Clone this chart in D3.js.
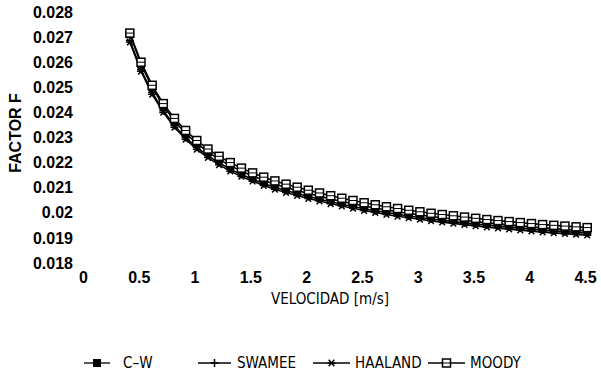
<!DOCTYPE html>
<html>
<head>
<meta charset="utf-8">
<script src="https://cdn.jsdelivr.net/npm/d3@7"></script>
<style>
  body { margin: 0; background: #fff; }
  svg { display: block; }
</style>
</head>
<body>
<script>
// velocidad (m/s)
const velocidad = [0.42, 0.52, 0.62, 0.72, 0.82, 0.92, 1.02, 1.12, 1.22, 1.32,
  1.42, 1.52, 1.62, 1.72, 1.82, 1.92, 2.02, 2.12, 2.22, 2.32,
  2.42, 2.52, 2.62, 2.72, 2.82, 2.92, 3.02, 3.12, 3.22, 3.32,
  3.42, 3.52, 3.62, 3.72, 3.82, 3.92, 4.02, 4.12, 4.22, 4.32,
  4.42, 4.52];

const cw = [0.02711, 0.02593, 0.02500, 0.02426, 0.02366, 0.02317, 0.02277, 0.02243, 0.02213, 0.02188,
  0.02166, 0.02147, 0.02129, 0.02114, 0.02101, 0.02089, 0.02077, 0.02066, 0.02055, 0.02045,
  0.02036, 0.02027, 0.02019, 0.02011, 0.02004, 0.01997, 0.01991, 0.01985, 0.01980, 0.01975,
  0.01970, 0.01965, 0.01960, 0.01956, 0.01952, 0.01948, 0.01944, 0.01940, 0.01937, 0.01934,
  0.01931, 0.01928];

const swamee = [0.02686, 0.02571, 0.02479, 0.02407, 0.02348, 0.02300, 0.02261, 0.02228, 0.02199, 0.02174,
  0.02153, 0.02134, 0.02117, 0.02102, 0.02089, 0.02077, 0.02065, 0.02054, 0.02044, 0.02034,
  0.02025, 0.02016, 0.02008, 0.02001, 0.01994, 0.01987, 0.01981, 0.01975, 0.01970, 0.01965,
  0.01960, 0.01955, 0.01951, 0.01947, 0.01943, 0.01939, 0.01935, 0.01931, 0.01928, 0.01925,
  0.01922, 0.01919];

const haaland = [0.02680, 0.02564, 0.02472, 0.02400, 0.02341, 0.02293, 0.02253, 0.02220, 0.02191, 0.02166,
  0.02145, 0.02126, 0.02109, 0.02094, 0.02081, 0.02069, 0.02057, 0.02047, 0.02036, 0.02027,
  0.02018, 0.02009, 0.02001, 0.01993, 0.01986, 0.01980, 0.01974, 0.01968, 0.01963, 0.01958,
  0.01953, 0.01948, 0.01943, 0.01939, 0.01935, 0.01931, 0.01927, 0.01923, 0.01920, 0.01917,
  0.01914, 0.01911];

const moody = [0.02716, 0.02600, 0.02508, 0.02435, 0.02376, 0.02328, 0.02288, 0.02254, 0.02225, 0.02200,
  0.02178, 0.02159, 0.02142, 0.02127, 0.02114, 0.02102, 0.02090, 0.02079, 0.02068, 0.02058,
  0.02049, 0.02040, 0.02032, 0.02024, 0.02017, 0.02010, 0.02004, 0.01998, 0.01993, 0.01988,
  0.01983, 0.01978, 0.01973, 0.01969, 0.01965, 0.01961, 0.01957, 0.01953, 0.01950, 0.01947,
  0.01944, 0.01941];

const xTicks = [0, 0.5, 1, 1.5, 2, 2.5, 3, 3.5, 4, 4.5];
const yTicks = [0.018, 0.019, 0.02, 0.021, 0.022, 0.023, 0.024, 0.025, 0.026, 0.027, 0.028];

const series = [
  { name: "C–W", values: cw, mark: "filled" },
  { name: "SWAMEE", values: swamee, mark: "plus" },
  { name: "HAALAND", values: haaland, mark: "star" },
  { name: "MOODY", values: moody, mark: "open" }
];

const width = 601, height = 374;
const svg = d3.select("body").append("svg")
  .attr("width", width)
  .attr("height", height);

const x = d3.scaleLinear().domain([0, 4.5]).range([83, 585]);
const y = d3.scaleLinear().domain([0.018, 0.028]).range([263, 12]);

const tickFont = "'Liberation Sans', Arial, sans-serif";
const titleFont = "'DejaVu Sans Condensed', 'DejaVu Sans', sans-serif";

// ejes sin linea, solo etiquetas
const yAxis = svg.append("g")
  .attr("transform", "translate(80,0)")
  .call(d3.axisLeft(y).tickValues(yTicks).tickSize(0).tickPadding(7)
    .tickFormat(d => String(+d.toFixed(3))));
yAxis.select(".domain").remove();
yAxis.selectAll("text")
  .attr("font-family", tickFont).attr("font-size", 16).attr("font-weight", "bold").attr("fill", "#000");

const xAxis = svg.append("g")
  .attr("transform", "translate(0,268)")
  .call(d3.axisBottom(x).tickValues(xTicks).tickSize(0).tickPadding(4)
    .tickFormat(d => String(d)));
xAxis.select(".domain").remove();
xAxis.selectAll("text")
  .attr("font-family", tickFont).attr("font-size", 16).attr("font-weight", "bold").attr("fill", "#000");

svg.append("text")
  .attr("transform", "translate(21,133) rotate(-90)")
  .attr("text-anchor", "middle")
  .attr("font-family", tickFont).attr("font-size", 16).attr("font-weight", "bold")
  .text("FACTOR F");

svg.append("text")
  .attr("x", 330).attr("y", 304)
  .attr("text-anchor", "middle")
  .attr("font-family", titleFont).attr("font-size", 15)
  .text("VELOCIDAD [m/s]");

// marcadores
function drawMark(g, type, cx, cy) {
  const s = 4;
  if (type === "filled") {
    g.append("rect").attr("x", cx - s).attr("y", cy - s).attr("width", 2 * s).attr("height", 2 * s)
      .attr("fill", "#000");
  } else if (type === "open") {
    g.append("rect").attr("x", cx - s).attr("y", cy - s).attr("width", 2 * s).attr("height", 2 * s)
      .attr("fill", "#fff").attr("stroke", "#000").attr("stroke-width", 1.5);
    g.append("line").attr("x1", cx - s).attr("x2", cx + s).attr("y1", cy).attr("y2", cy)
      .attr("stroke", "#000").attr("stroke-width", 1);
  } else if (type === "plus") {
    g.append("path").attr("d", `M${cx - s},${cy}H${cx + s}M${cx},${cy - s}V${cy + s}`)
      .attr("stroke", "#000").attr("stroke-width", 1.5);
  } else if (type === "star") {
    g.append("path").attr("d",
      `M${cx - s},${cy}H${cx + s}M${cx - s * 0.7},${cy - s * 0.8}L${cx + s * 0.7},${cy + s * 0.8}` +
      `M${cx - s * 0.7},${cy + s * 0.8}L${cx + s * 0.7},${cy - s * 0.8}`)
      .attr("stroke", "#000").attr("stroke-width", 1.5);
  }
}

const line = d3.line().x(d => x(d[0])).y(d => y(d[1]));

series.forEach(s => {
  const pts = velocidad.map((v, i) => [v, s.values[i]]);
  const g = svg.append("g");
  g.append("path").datum(pts).attr("d", line)
    .attr("fill", "none").attr("stroke", "#000").attr("stroke-width", 1.6);
  pts.forEach(p => drawMark(g, s.mark, x(p[0]), y(p[1])));
});

// leyenda
const legendPos = [{ x1: 84, x2: 110, tx: 123 }, { x1: 198, x2: 231, tx: 237 },
  { x1: 313, x2: 350, tx: 355 }, { x1: 428, x2: 465, tx: 470 }];
const ly = 363;
series.forEach((s, i) => {
  const p = legendPos[i];
  const g = svg.append("g");
  g.append("line").attr("x1", p.x1).attr("x2", p.x2).attr("y1", ly).attr("y2", ly)
    .attr("stroke", "#000").attr("stroke-width", 1.3);
  drawMark(g, s.mark, (p.x1 + p.x2) / 2, ly);
  g.append("text").attr("x", p.tx).attr("y", ly).attr("dy", "0.35em")
    .attr("font-family", titleFont).attr("font-size", 15)
    .text(s.name);
});
</script>
</body>
</html>
